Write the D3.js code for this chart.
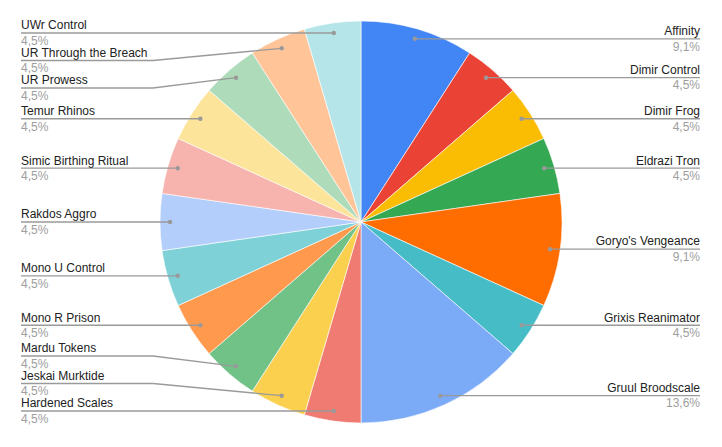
<!DOCTYPE html>
<html>
<head>
<meta charset="utf-8">
<script src="https://cdn.jsdelivr.net/npm/d3@7"></script>
<style>
  html, body { margin: 0; padding: 0; background: #fff; }
  svg { display: block; font-family: "Liberation Sans", Arial, sans-serif; }
</style>
</head>
<body>
<svg id="chart" width="722" height="447"></svg>
<script>
const categories = [
  "Affinity", "Dimir Control", "Dimir Frog", "Eldrazi Tron", "Goryo's Vengeance",
  "Grixis Reanimator", "Gruul Broodscale", "Hardened Scales", "Jeskai Murktide",
  "Mardu Tokens", "Mono R Prison", "Mono U Control", "Rakdos Aggro",
  "Simic Birthing Ritual", "Temur Rhinos", "UR Prowess", "UR Through the Breach", "UWr Control"
];
const values = [2, 1, 1, 1, 2, 1, 3, 1, 1, 1, 1, 1, 1, 1, 1, 1, 1, 1];
const colors = [
  "#4285f4", "#ea4335", "#fbbc04", "#34a853", "#ff6d01", "#46bdc6", "#7baaf7",
  "#f07b72", "#fcd04f", "#71c287", "#ff994d", "#7ed1d7", "#b3cefb", "#f7b4ae",
  "#fde49b", "#aedcba", "#ffc599", "#b5e5e8"
];

const W = 722, H = 447;
const cx = 361, cy = 222, R = 201;
const rDot = R * 0.95;
const svg = d3.select("#chart");

const total = d3.sum(values);
const fmt = v => (Math.round(v / total * 1000) / 10).toFixed(1).replace(".", ",") + "%";

const pie = d3.pie().sort(null).value(d => d)(values);
const arc = d3.arc().innerRadius(0).outerRadius(R);

const g = svg.append("g").attr("transform", `translate(${cx},${cy})`);
g.selectAll("path.slice")
  .data(pie)
  .join("path")
  .attr("class", "slice")
  .attr("d", arc)
  .attr("fill", (d, i) => colors[i])
  .attr("stroke", "#ffffff")
  .attr("stroke-width", 0.6);

// Label layout
const items = pie.map((d, i) => {
  const mid = (d.startAngle + d.endAngle) / 2;
  return {
    i, d, mid,
    right: mid < Math.PI,
    desiredY: cy - rDot * Math.cos(mid)
  };
});

const gap = 27.5, minY = 33;
function layout(list, maxY) {
  list.sort((a, b) => a.desiredY - b.desiredY);
  list.forEach((it, k) => {
    it.y = Math.max(it.desiredY, minY);
    if (k > 0) it.y = Math.max(it.y, list[k - 1].y + gap);
  });
  for (let k = list.length - 1; k >= 0; k--) {
    if (k === list.length - 1) list[k].y = Math.min(list[k].y, maxY);
    else list[k].y = Math.min(list[k].y, list[k + 1].y - gap);
  }
}
layout(items.filter(d => d.right), 397);
layout(items.filter(d => !d.right), 411);

items.forEach(it => {
  const span = it.d.endAngle - it.d.startAngle;
  const c = -(it.y - cy) / rDot;
  let ang = it.mid;
  if (Math.abs(c) <= 1) {
    let t = Math.acos(c);
    if (!it.right) t = 2 * Math.PI - t;
    if (t >= it.d.startAngle + 0.3 * span && t <= it.d.endAngle - 0.3 * span) ang = t;
  }
  it.dx = cx + rDot * Math.sin(ang);
  it.dy = cy - rDot * Math.cos(ang);
});

const rightTextX = 700, rightElbow = 568, leftTextX = 21, leftElbow = 153;
const lab = svg.append("g");

items.forEach(it => {
  const textX = it.right ? rightTextX : leftTextX;
  const elbowX = it.right ? rightElbow : leftElbow;
  lab.append("path")
    .attr("d", d3.line()([[textX, it.y], [elbowX, it.y], [it.dx, it.dy]]))
    .attr("fill", "none")
    .attr("stroke", "#9a9a9a")
    .attr("stroke-width", 1.3);
  lab.append("circle")
    .attr("cx", it.dx).attr("cy", it.dy).attr("r", 2.2)
    .attr("fill", "#999");
  lab.append("text")
    .attr("x", textX).attr("y", it.y - 3.7)
    .attr("text-anchor", it.right ? "end" : "start")
    .attr("font-size", 12)
    .attr("fill", "#222")
    .text(categories[it.i]);
  lab.append("text")
    .attr("x", textX).attr("y", it.y + 11.8)
    .attr("text-anchor", it.right ? "end" : "start")
    .attr("font-size", 12)
    .attr("fill", "#9e9e9e")
    .text(fmt(values[it.i]));
});
</script>
</body>
</html>
